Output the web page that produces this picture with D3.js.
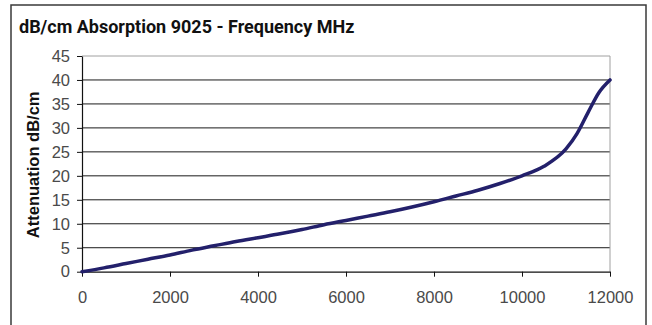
<!DOCTYPE html>
<html>
<head>
<meta charset="utf-8">
<script src="https://cdn.jsdelivr.net/npm/d3@7"></script>
<style>
  html, body { margin: 0; padding: 0; background: #fff; }
  svg { display: block; }
</style>
</head>
<body>
<svg id="chart" width="652" height="325"></svg>
<script>
// Attenuation of 9025 material versus frequency
const frequencyMHz = [0, 500, 1000, 1500, 2000, 2500, 3000, 3500, 4000, 4500, 5000, 5500, 6000,
  6500, 7000, 7500, 8000, 8500, 9000, 9500, 10000, 10500, 11000, 11250, 11500, 11750, 12000];
const attenuationDb = [0, 0.8, 1.7, 2.6, 3.5, 4.5, 5.4, 6.3, 7.1, 7.9, 8.8, 9.8, 10.7,
  11.6, 12.5, 13.5, 14.6, 15.8, 17.0, 18.4, 20.0, 22.0, 25.6, 28.8, 33.2, 37.4, 40.0];
const xTicks = [0, 2000, 4000, 6000, 8000, 10000, 12000];
const yTicks = [0, 5, 10, 15, 20, 25, 30, 35, 40, 45];

const svg = d3.select("#chart");

// Outer frame (open at the bottom edge of the page)
svg.append("rect")
  .attr("x", 11).attr("y", 5)
  .attr("width", 635).attr("height", 340)
  .attr("fill", "#fff").attr("stroke", "#3a3a3a").attr("stroke-width", 1.5);

svg.append("text")
  .attr("x", 19).attr("y", 33)
  .attr("font-family", "Roboto, 'Open Sans', sans-serif")
  .attr("font-weight", 700).attr("font-size", 18)
  .attr("fill", "#111")
  .text("dB/cm Absorption 9025 - Frequency MHz");

const plotLeft = 82, plotRight = 610, plotTop = 56, plotBottom = 271.7;
const x = d3.scaleLinear().domain([0, 12000]).range([plotLeft, plotRight]);
const y = d3.scaleLinear().domain([0, 45]).range([plotBottom, plotTop]);

// Horizontal gridlines
svg.append("g").selectAll("line")
  .data(yTicks.filter(d => d > 0 && d < 45))
  .join("line")
  .attr("x1", plotLeft).attr("x2", plotRight)
  .attr("y1", d => y(d)).attr("y2", d => y(d))
  .attr("stroke", "#1a1a1a").attr("stroke-width", 1);

// Plot border (top and right)
svg.append("path")
  .attr("d", `M${plotLeft},${y(45)}H${plotRight}V${plotBottom}`)
  .attr("fill", "none").attr("stroke", "#a0a0a0").attr("stroke-width", 1);

const tickFont = "Arial, 'Liberation Sans', sans-serif";

const yAxis = svg.append("g")
  .attr("transform", `translate(${plotLeft},0)`)
  .call(d3.axisLeft(y).tickValues(yTicks).tickSize(5).tickPadding(7).tickSizeOuter(0));
const xAxis = svg.append("g")
  .attr("transform", `translate(0,${plotBottom})`)
  .call(d3.axisBottom(x).tickValues(xTicks).tickSize(5).tickPadding(15).tickSizeOuter(0)
    .tickFormat(d3.format("d")));

[yAxis, xAxis].forEach(g => {
  g.select(".domain").attr("stroke", "#111").attr("stroke-width", 1.2);
  g.selectAll(".tick line").attr("stroke", "#111");
  g.selectAll(".tick text")
    .attr("font-family", tickFont).attr("font-size", 16.5).attr("fill", "#4a4a4a");
});

// Attenuation curve
const line = d3.line()
  .x((d, i) => x(frequencyMHz[i]))
  .y(d => y(d))
  .curve(d3.curveMonotoneX);

svg.append("path")
  .datum(attenuationDb)
  .attr("d", line)
  .attr("fill", "none")
  .attr("stroke", "#23206b")
  .attr("stroke-width", 3.5)
  .attr("stroke-linecap", "round")
  .attr("stroke-linejoin", "round");

svg.append("text")
  .attr("transform", `translate(39,${(plotTop + plotBottom) / 2 + 1}) rotate(-90)`)
  .attr("text-anchor", "middle")
  .attr("font-family", tickFont)
  .attr("font-weight", 700).attr("font-size", 16.5)
  .attr("fill", "#111")
  .text("Attenuation dB/cm");
</script>
</body>
</html>
